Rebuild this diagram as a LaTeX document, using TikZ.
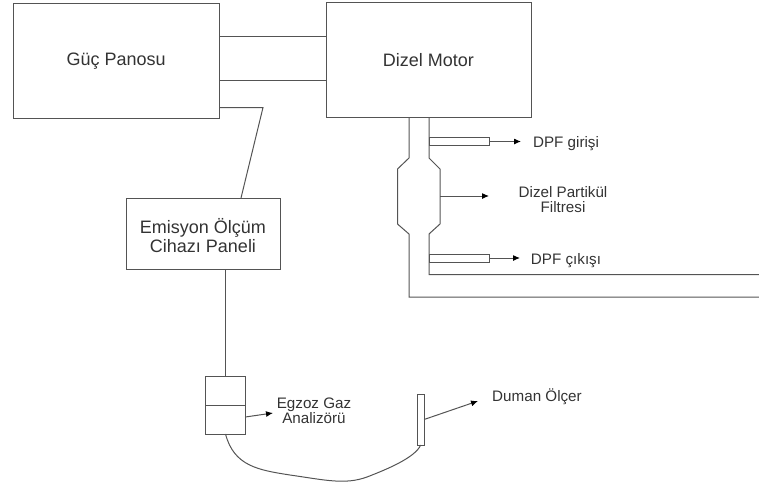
\documentclass[tikz,border=0pt]{standalone}
\usepackage{fontspec}
\setmainfont{Liberation Sans}
\definecolor{linegray}{gray}{0.33}
\definecolor{textgray}{gray}{0.2}
\tikzset{
  box/.style={draw=linegray, line width=1pt, rectangle, inner sep=0pt, outer sep=0pt},
  bigtext/.style={text=textgray, inner sep=0pt, align=center, font=\fontsize{18}{20}\selectfont},
  smalltext/.style={text=textgray, inner sep=0pt, align=center, font=\fontsize{15.2}{15.5}\selectfont},
  wire/.style={draw=linegray, line width=1pt},
  arrowline/.style={draw=linegray, line width=1pt, -{Latex[length=7pt,width=6pt,black]}}
}
\usetikzlibrary{arrows.meta}
\begin{document}
\begin{tikzpicture}[x=1pt, y=-1pt]
        \useasboundingbox (0,0) rectangle (759,483);
        \node[box, minimum width=205.5pt, minimum height=114.5pt, bigtext] (guc) at (116.25,60.75) {Güç Panosu};
        \node[box, minimum width=205pt, minimum height=114.5pt, bigtext] (motor) at (428.5,59.75) {Dizel Motor};
        \node[box, minimum width=154pt, minimum height=71pt] (panel) at (203,233.5) {};
        \node[bigtext] (panellabel) at (203,235.5) {Emisyon Ölçüm\\[-1.5pt]Cihazı Paneli};
        \node[box, minimum width=39.5pt, minimum height=29pt] (ana1) at (225.5,390.5) {};
        \node[box, minimum width=39.5pt, minimum height=29pt] (ana2) at (225.5,419.5) {};
        \node[box, minimum width=6.7pt, minimum height=51pt] (probe) at (420.7,419.5) {};
        \node[box, minimum width=60pt, minimum height=8pt] (tube1) at (459,141.5) {};
        \node[box, minimum width=60pt, minimum height=8pt] (tube2) at (459,258) {};
        \node[smalltext] (girisi) at (566,144) {DPF girişi};
        \node[smalltext] (filtre) at (563,199.5) {Dizel Partikül\\Filtresi};
        \node[smalltext] (cikisi) at (566,261) {DPF çıkışı};
        \node[smalltext] (analizor) at (314,411) {Egzoz Gaz\\Analizörü};
        \node[smalltext] (duman) at (537,397) {Duman Ölçer};
        \coordinate (e1) at (521,141.5);
        \coordinate (e2) at (520,258);
        \coordinate (e3) at (489,196);
        \coordinate (e4) at (273,413);
        \coordinate (e5) at (478,401);
        \coordinate (s3) at (440,196);
        \coordinate (knee) at (263,107.5);
        % connections
        \draw[wire] (guc.east |- 0,36) -- (motor.west |- 0,36);
        \draw[wire] (guc.east |- 0,80.5) -- (motor.west |- 0,80.5);
        \draw[wire] (guc.east |- knee) -- (knee) -- (241,198);
        \draw[wire] (ana1.north |- panel.south) -- (ana1.north);
        \draw[wire] (ana2.south) .. controls (234,466) and (258,470) .. (290,475) .. controls (325,480) and (345,485) .. (367,477) .. controls (385,470) and (415,458) .. (probe.south);
        % exhaust pipe
        \draw[wire] (409,117) -- (409,158) -- (397.5,169) -- (397.5,224) -- (409,234) -- (409,297) -- (759,297);
        \draw[wire] (429,117) -- (429,158) -- (440,169) -- (440,224) -- (429,234) -- (429,274.5) -- (759,274.5);
        % arrows
        \draw[arrowline] (tube1) -- (e1);
        \draw[arrowline] (tube2) -- (e2);
        \draw[arrowline] (s3) -- (e3);
        \draw[arrowline] (ana2.east |- 0,417) -- (e4);
        \draw[arrowline] (probe.east |- 0,419.5) -- (e5);
    \end{tikzpicture}
\end{document}
